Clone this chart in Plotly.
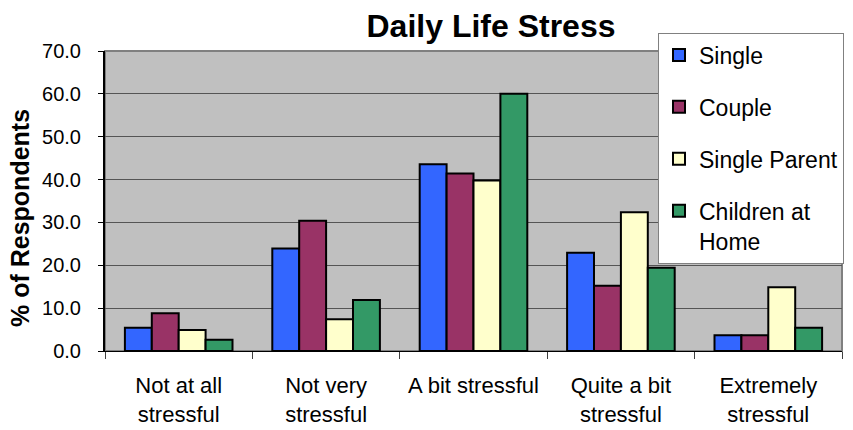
import plotly.graph_objects as go

categories = ["Not at all<br>stressful", "Not very<br>stressful", "A bit stressful",
              "Quite a bit<br>stressful", "Extremely<br>stressful"]
series_names = ["Single", "Couple", "Single Parent", "Children at<br>Home"]
single = [5.4, 23.9, 43.6, 22.9, 3.7]
couple = [8.8, 30.4, 41.4, 15.2, 3.7]
single_parent = [4.9, 7.4, 39.8, 32.4, 14.9]
children_home = [2.6, 11.9, 60.0, 19.4, 5.4]
colors = ["#3366FF", "#993366", "#FFFFCC", "#339966"]

FONT = "Liberation Sans, Arial, sans-serif"

# the page body adds an 8px margin, so the figure is drawn 8px smaller
W, H = 845, 422

fig = go.Figure()
for i, (name, vals) in enumerate(zip(series_names, [single, couple, single_parent, children_home])):
    fig.add_trace(go.Bar(
        x=categories, y=vals, name=name,
        marker=dict(color=colors[i], line=dict(color="black", width=2)),
        legendgroup=str(i),
    ))

fig.update_layout(
    width=W, height=H,
    margin=dict(l=97, r=11, t=43, b=79, autoexpand=False),
    paper_bgcolor="white",
    plot_bgcolor="#C0C0C0",
    barmode="group",
    bargap=0.27,
    bargroupgap=0,
    font=dict(family=FONT, color="black"),
    title=dict(text="<b>Daily Life Stress</b>", x=483/W, xref="container", xanchor="center",
               y=1 - 18/H, yref="container", yanchor="middle",
               font=dict(size=32, family=FONT, color="black")),
    legend=dict(x=(650-97)/737, xanchor="left",
                y=(343-140)/300, yanchor="middle",
                bgcolor="white", bordercolor="#808080", borderwidth=1,
                font=dict(size=23, family=FONT), tracegroupgap=19, valign="top",
                itemsizing="constant"),
    showlegend=True,
)

fig.update_xaxes(
    showgrid=False, showline=True, linecolor="black", linewidth=1,
    ticks="outside", tickson="boundaries", ticklen=7, tickcolor="#404040",
    tickfont=dict(size=22, family=FONT), ticklabelstandoff=15, tickangle=0,
)
fig.update_yaxes(
    range=[0, 70], dtick=10, tickformat=".1f",
    showgrid=True, gridcolor="#555555", gridwidth=1,
    showline=True, linecolor="black", linewidth=2,
    ticks="outside", ticklen=5, tickcolor="black",
    tickfont=dict(size=20, family=FONT), ticklabelstandoff=13,
    zeroline=False,
)

# grey frame around plot area (top and right)
fig.add_shape(type="rect", xref="paper", yref="paper", x0=0, x1=1, y0=0, y1=1,
              line=dict(color="#808080", width=2), layer="below")

fig.add_annotation(text="<b>% of Respondents</b>", textangle=-90,
                   xref="paper", yref="paper", x=(12-97)/737, y=(343-210)/300,
                   xanchor="center", yanchor="middle", showarrow=False,
                   font=dict(size=25, family=FONT, color="black"))

fig.write_html("out.html")
